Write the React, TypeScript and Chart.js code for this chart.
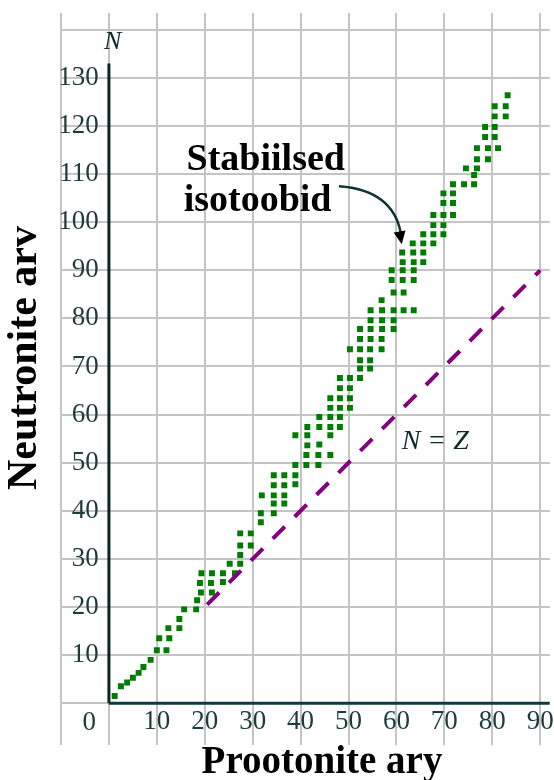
import React, { useEffect, useRef } from 'react';
import { Chart, registerables } from 'chart.js';

Chart.register(...registerables);

// ---- Data ----
const X_GRID = [-10, 0, 10, 20, 30, 40, 50, 60, 70, 80, 90];
const Y_GRID = [0, 10, 20, 30, 40, 50, 60, 70, 80, 90, 100, 110, 120, 130, 140];
const X_LABELS = [10, 20, 30, 40, 50, 60, 70, 80, 90];
const Y_LABELS = [10, 20, 30, 40, 50, 60, 70, 80, 90, 100, 110, 120, 130];

const X_TITLE = 'Prootonite ary';
const Y_TITLE = 'Neutronite arv';
const CALLOUT_LINES = ['Stabiilsed', 'isotoobid'];
const NZ_LABEL = 'N = Z';
const N_LABEL = 'N';
const ORIGIN_LABEL = '0';

// stable isotopes: [Z (protons), N (neutrons)]
const STABLE_ISOTOPES: [number, number][] = [
  [1.2, 1.5], [2.5, 3.5], [3.8, 4.3], [5, 5.3], [6.2, 6.3], [7.2, 7.5], [8.7, 9],
  [10, 11], [12, 11], [10.5, 13.5], [12.6, 13.5], [12.4, 15.6], [14.7, 15.6], [14.7, 17.5],
  [15.7, 19.5], [18.2, 19.5], [18.4, 21.4], [19.2, 23], [21.5, 23], [19, 25], [21.3, 25], [23.8, 25.2],
  [19.3, 27], [21.5, 27], [23.8, 27], [26.3, 27], [25.2, 29], [27.4, 29], [27.4, 30.8], [27.4, 32.8], [29.6, 32.8],
  [27.4, 35.3], [29.6, 35.3], [31.7, 37.6], [31.7, 39.5], [34.4, 39.5], [34.4, 41.5], [36.6, 41.5],
  [31.9, 43.2], [34.4, 43.2], [36.6, 43.2], [34.4, 45.3], [36.6, 45.3], [38.9, 45.5],
  [34.4, 47.4], [36.6, 47.4], [38.9, 47.4], [38.9, 49.5], [41.2, 49.5], [43.7, 49.5],
  [41.2, 51.6], [43.7, 51.6], [46.2, 51.6], [41.4, 53.6], [43.9, 53.8],
  [38.9, 55.7], [41.4, 55.7], [46.2, 55.7], [41.4, 57.4], [43.9, 57.4], [46.2, 57.4], [48.2, 57.4],
  [43.9, 59.5], [46.2, 59.5], [48.2, 59.5],
  [46.2, 61.4], [48.2, 61.4], [50.3, 61.4],
  [46.2, 63.4], [48.2, 63.4], [50.3, 63.4],
  [48.2, 65.5], [50.3, 65.5],
  [48.2, 67.6], [50.3, 67.6], [52.4, 67.6],
  [52.4, 69.6], [54.5, 69.6],
  [52.4, 71.3], [54.5, 71.3],
  [50.3, 73.6], [52.4, 73.6], [54.5, 73.6], [56.9, 73.6],
  [52.4, 75.7], [54.6, 75.7], [56.9, 75.7],
  [52.4, 77.8], [54.6, 77.8], [57, 77.8], [59.4, 77.8],
  [54.6, 79.6], [57, 79.6], [59.4, 79.6],
  [54.6, 81.7], [57, 81.7], [59.4, 81.7], [61.5, 81.7], [63.6, 81.7],
  [56.9, 83.8],
  [59.4, 85.4], [61.5, 85.4],
  [59, 88], [61.3, 88], [63.6, 88],
  [59, 90], [61.3, 90], [63.6, 90],
  [61.3, 91.7], [63.6, 91.7], [65.6, 91.7],
  [61.2, 93.7], [63.5, 93.7], [65.6, 93.7],
  [63.4, 95.6], [65.6, 95.6], [67.7, 95.6],
  [65.6, 97.5], [67.7, 97.5], [69.8, 97.5],
  [67.7, 99.4], [69.8, 99.4],
  [67.7, 101.5], [69.8, 101.5], [71.8, 101.5],
  [69.8, 104], [71.8, 104],
  [69.8, 106], [71.8, 106],
  [71.8, 107.9], [74.1, 107.9], [76.2, 107.9],
  [76.2, 109.8],
  [74.5, 111.2], [76.8, 111.2],
  [76.8, 113.1], [79.1, 113.1],
  [76.8, 115.4], [79.1, 115.4], [81.2, 115.4],
  [78.5, 117.7], [80.5, 117.7],
  [78.5, 119.8], [80.5, 119.8],
  [80.5, 122], [82.8, 122],
  [80.5, 124.1], [82.8, 124.1],
  [83.2, 126.4],
];

// N = Z reference line (from, to)
const NZ_LINE = [20.5, 90];
// axis line extents
const Y_AXIS_TOP = 133;
const X_AXIS_END = 92;

// ---- annotation plugin (text + arrow placed through the scales) ----
const annotations = {
  id: 'annotations',
  afterDatasetsDraw(chart: any) {
    const { ctx, scales } = chart;
    const x = scales.x;
    const y = scales.y;
    const px = (v: number) => x.getPixelForValue(v);
    const py = (v: number) => y.getPixelForValue(v);
    ctx.save();

    // callout text
    ctx.fillStyle = '#000';
    ctx.textAlign = 'left';
    ctx.textBaseline = 'alphabetic';
    ctx.font = 'bold 38px "Liberation Serif"';
    ctx.fillText(CALLOUT_LINES[0], px(16.2), py(110.8));
    ctx.fillText(CALLOUT_LINES[1], px(15.6), py(102.3));

    // curved arrow
    const p0 = [px(48.0), py(107.5)];
    const c = [px(59.2), py(106.7)];
    const p1 = [px(60.9), py(97.8)];
    const tip = [px(61.1), py(95.4)];
    ctx.strokeStyle = '#0d3333';
    ctx.lineWidth = 2.5;
    ctx.beginPath();
    ctx.moveTo(p0[0], p0[1]);
    ctx.quadraticCurveTo(c[0], c[1], p1[0], p1[1]);
    ctx.stroke();
    const ang = Math.atan2(tip[1] - c[1], tip[0] - c[0]);
    const hl = 13;
    const hw = 6;
    ctx.fillStyle = '#000';
    ctx.beginPath();
    ctx.moveTo(tip[0], tip[1]);
    ctx.lineTo(tip[0] - hl * Math.cos(ang) + hw * Math.sin(ang), tip[1] - hl * Math.sin(ang) - hw * Math.cos(ang));
    ctx.lineTo(tip[0] - hl * Math.cos(ang) - hw * Math.sin(ang), tip[1] - hl * Math.sin(ang) + hw * Math.cos(ang));
    ctx.closePath();
    ctx.fill();

    // N = Z label
    ctx.fillStyle = '#0c2a2a';
    ctx.textAlign = 'center';
    ctx.textBaseline = 'middle';
    ctx.font = 'italic 28px "Liberation Serif"';
    ctx.fillText(NZ_LABEL, px(68.1), py(54.3));

    // N at top of vertical axis
    ctx.font = 'italic 26px "Liberation Serif"';
    ctx.fillText(N_LABEL, px(0.8), py(137.4));

    // origin label
    ctx.fillStyle = '#1e3b3b';
    ctx.font = '27px "Liberation Serif"';
    ctx.fillText(ORIGIN_LABEL, px(-4.1), py(-4.2));

    // axis titles
    ctx.fillStyle = '#000';
    ctx.font = 'bold 39px "Liberation Serif"';
    ctx.fillText(X_TITLE, 322, 763);
    ctx.font = 'bold 42px "Liberation Serif"';
    ctx.translate(25, 358);
    ctx.rotate(-Math.PI / 2);
    ctx.fillText(Y_TITLE, 0, 0);

    ctx.restore();
  },
};

const noScalePadding = (s: any) => {
  s.paddingTop = 0;
  s.paddingBottom = 0;
  s.paddingLeft = 0;
  s.paddingRight = 0;
};

export default function App() {
  const ref = useRef<HTMLCanvasElement>(null);

  useEffect(() => {
    if (!ref.current) return;
    const tickFont = { family: '"Liberation Serif"', size: 27 };
    const chart = new Chart(ref.current, {
      type: 'scatter',
      data: {
        datasets: [
          {
            label: 'y-axis',
            data: [{ x: 0, y: 0 }, { x: 0, y: Y_AXIS_TOP }],
            showLine: true,
            borderColor: '#0a2424',
            borderWidth: 3,
            pointRadius: 0,
          },
          {
            label: 'x-axis',
            data: [{ x: 0, y: 0 }, { x: X_AXIS_END, y: 0 }],
            showLine: true,
            borderColor: '#0c3c3c',
            borderWidth: 3,
            pointRadius: 0,
          },
          {
            label: 'N = Z',
            data: NZ_LINE.map((v) => ({ x: v, y: v })),
            showLine: true,
            borderColor: '#84007f',
            borderWidth: 4,
            borderDash: [17, 14],
            pointRadius: 0,
          },
          {
            label: 'Stabiilsed isotoobid',
            data: STABLE_ISOTOPES.map(([z, n]) => ({ x: z, y: n })),
            pointStyle: 'rect',
            pointRadius: 4.2,
            backgroundColor: '#007c00',
            borderColor: '#007c00',
            borderWidth: 0,
          },
        ],
      },
      options: {
        responsive: false,
        animation: false,
        layout: { padding: { left: 61, right: 0, top: 13, bottom: 35 } },
        plugins: { legend: { display: false }, tooltip: { enabled: false } },
        scales: {
          x: {
            type: 'linear',
            min: -10,
            max: 92,
            position: { y: 0 } as any,
            afterBuildTicks: (s: any) => {
              s.ticks = X_GRID.map((v) => ({ value: v }));
            },
            afterFit: noScalePadding,
            grid: { color: '#c4c4c4', lineWidth: 2, drawTicks: false },
            border: { display: false },
            ticks: {
              autoSkip: false,
              maxRotation: 0,
              padding: 3,
              color: '#1e3b3b',
              font: tickFont,
              callback: (v: any) => (X_LABELS.includes(Number(v)) ? String(v) : ''),
            },
          },
          y: {
            type: 'linear',
            min: -8.7,
            max: 143.5,
            position: { x: -2.1 } as any,
            afterBuildTicks: (s: any) => {
              s.ticks = Y_GRID.map((v) => ({ value: v }));
            },
            afterFit: noScalePadding,
            grid: { color: '#c4c4c4', lineWidth: 2, drawTicks: false },
            border: { display: false },
            ticks: {
              autoSkip: false,
              padding: 0,
              color: '#1e3b3b',
              font: tickFont,
              callback: (v: any) => (Y_LABELS.includes(Number(v)) ? String(v) : ''),
            },
          },
        },
      },
      plugins: [annotations],
    } as any);
    return () => chart.destroy();
  }, []);

  return (
    <div style={{ position: 'absolute', left: 0, top: 0, width: 554, height: 780, background: '#fff' }}>
      <canvas ref={ref} width={554} height={780} style={{ display: 'block' }} />
    </div>
  );
}
